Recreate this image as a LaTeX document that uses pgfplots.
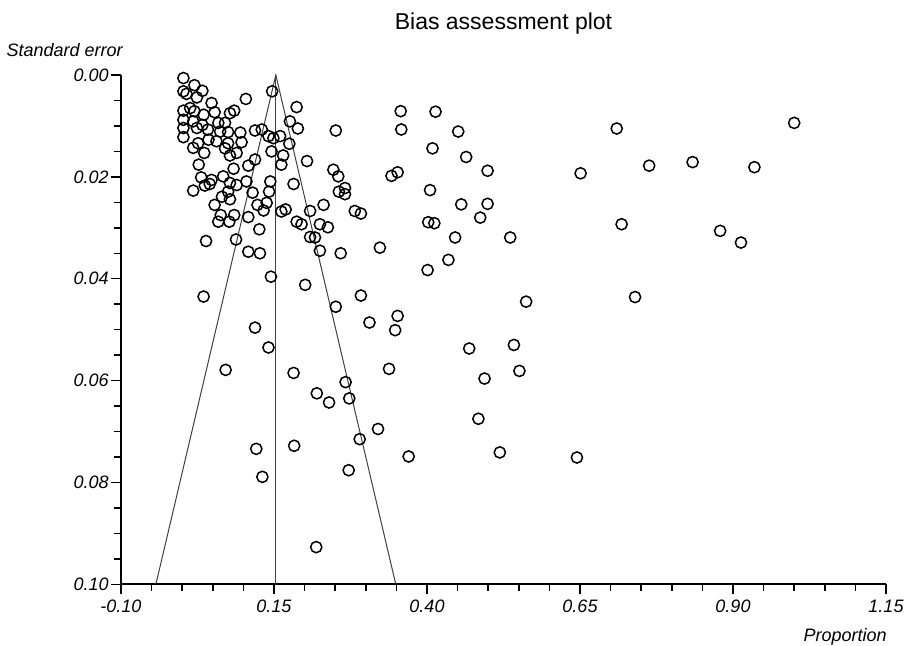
\documentclass[border=0pt]{standalone}
\usepackage{fontspec}
\setmainfont{Liberation Sans}
\usepackage{pgfplots}
\pgfplotsset{compat=1.18}
\newcommand{\lab}{\fontsize{9}{10.5}\selectfont\itshape}
\begin{document}
\begin{tikzpicture}
\path[use as bounding box] (-60.5pt,-30.35pt) rectangle (398.5pt,292.15pt);
\begin{axis}[
  at={(0pt,0pt)}, anchor=south west,
  scale only axis, width=382.5pt, height=254.65pt,
  xmin=-0.1, xmax=1.15, ymin=0, ymax=0.1,
  y dir=reverse,
  axis x line*=bottom, axis y line*=left,
  axis line style={-, line width=1pt},
  clip=false,
  xtick={-0.1,0.15,0.4,0.65,0.9,1.15},
  xticklabels={-0.10,0.15,0.40,0.65,0.90,1.15},
  ytick={0,0.02,0.04,0.06,0.08,0.1},
  yticklabels={0.00,0.02,0.04,0.06,0.08,0.10},
  minor x tick num=4, minor y tick num=3,
  tick align=outside,
  major tick length=5pt, minor tick length=3.3pt,
  tick style={black, line width=0.75pt},
  xticklabel style={font=\lab, anchor=north, inner sep=0pt, yshift=-2.5pt},
  yticklabel style={font=\lab, anchor=east, inner sep=0pt, xshift=-1pt},
]
\addplot[black!75, line width=0.5pt] coordinates {(-0.043,0.1) (0.153,0) (0.349,0.1)};
\addplot[black!75, line width=0.5pt] coordinates {(0.153,0) (0.153,0.1)};
\addplot[only marks, mark=o, mark size=2.8pt, mark options={line width=0.75pt, black}] table {
x y
0.002 0.0006
0.020 0.0020
0.033 0.0031
0.002 0.0032
0.007 0.0037
0.024 0.0044
0.048 0.0055
0.104 0.0047
0.147 0.0032
0.187 0.0063
0.002 0.0070
0.013 0.0065
0.020 0.0071
0.035 0.0078
0.053 0.0073
0.078 0.0075
0.085 0.0070
0.002 0.0088
0.018 0.0091
0.002 0.0104
0.002 0.0122
0.024 0.0104
0.033 0.0098
0.042 0.0107
0.059 0.0094
0.070 0.0094
0.062 0.0111
0.075 0.0112
0.095 0.0113
0.119 0.0109
0.130 0.0107
0.141 0.0120
0.160 0.0120
0.176 0.0091
0.189 0.0105
0.251 0.0109
0.026 0.0134
0.018 0.0143
0.043 0.0127
0.056 0.0130
0.075 0.0134
0.097 0.0132
0.089 0.0153
0.078 0.0158
0.036 0.0153
0.149 0.0124
0.175 0.0135
0.146 0.0150
0.165 0.0158
0.162 0.0176
0.119 0.0166
0.108 0.0178
0.204 0.0169
0.027 0.0176
0.084 0.0184
0.031 0.0201
0.048 0.0206
0.067 0.0199
0.078 0.0212
0.105 0.0209
0.144 0.0209
0.182 0.0214
0.247 0.0186
0.255 0.0199
0.070 0.0144
0.045 0.0214
0.037 0.0217
0.089 0.0216
0.018 0.0227
0.065 0.0239
0.075 0.0229
0.078 0.0244
0.115 0.0231
0.142 0.0229
0.053 0.0255
0.123 0.0255
0.138 0.0251
0.133 0.0266
0.162 0.0268
0.169 0.0264
0.231 0.0255
0.209 0.0267
0.256 0.0229
0.063 0.0275
0.085 0.0275
0.108 0.0279
0.059 0.0288
0.077 0.0288
0.187 0.0288
0.195 0.0293
0.225 0.0293
0.238 0.0299
0.126 0.0303
0.209 0.0318
0.217 0.0319
0.039 0.0326
0.088 0.0323
0.225 0.0345
0.259 0.0350
0.108 0.0347
0.127 0.0350
0.145 0.0396
0.201 0.0412
0.035 0.0435
0.357 0.0071
0.414 0.0072
0.358 0.0107
0.451 0.0111
0.409 0.0144
0.464 0.0161
0.499 0.0188
0.651 0.0193
0.342 0.0198
0.352 0.0191
0.266 0.0222
0.266 0.0234
0.405 0.0226
0.456 0.0254
0.499 0.0253
0.487 0.0280
0.282 0.0267
0.292 0.0272
0.402 0.0289
0.412 0.0291
0.446 0.0319
0.536 0.0319
0.323 0.0339
0.435 0.0363
0.401 0.0383
0.292 0.0433
0.562 0.0445
0.710 0.0105
1.000 0.0094
0.763 0.0178
0.834 0.0171
0.935 0.0181
0.718 0.0293
0.879 0.0306
0.913 0.0329
0.251 0.0455
0.352 0.0473
0.306 0.0486
0.348 0.0501
0.469 0.0537
0.542 0.0530
0.551 0.0581
0.494 0.0596
0.338 0.0577
0.267 0.0603
0.220 0.0625
0.240 0.0643
0.273 0.0635
0.484 0.0675
0.320 0.0695
0.290 0.0715
0.370 0.0749
0.519 0.0741
0.272 0.0776
0.740 0.0436
0.119 0.0496
0.141 0.0535
0.071 0.0579
0.182 0.0585
0.121 0.0734
0.183 0.0728
0.645 0.0751
0.131 0.0789
0.219 0.0927
};
\end{axis}
\node[anchor=base, font=\fontsize{11.5}{14}\selectfont] at (191.25pt,277.65pt) {Bias assessment plot};
\node[anchor=base east, inner sep=0pt, font=\lab] at (1pt,264.15pt) {Standard error};
\node[anchor=base east, inner sep=0pt, font=\lab] at (383pt,-28.5pt) {Proportion};
\end{tikzpicture}
\end{document}
